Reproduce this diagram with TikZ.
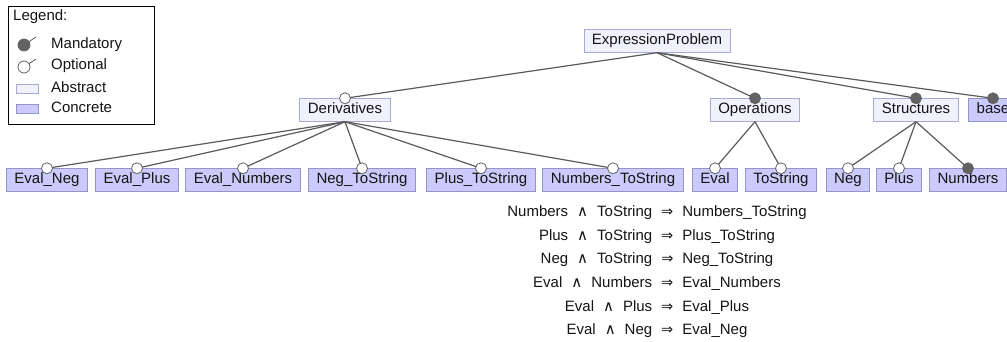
\documentclass[tikz,border=0pt]{standalone}
\usepackage{fontspec}
\setmainfont{Liberation Sans}
\newfontfamily\symfont[Scale=1.0]{DejaVu Sans}
\definecolor{absfill}{HTML}{F1F1FE}
\definecolor{absdraw}{HTML}{A9A9D6}
\definecolor{confill}{HTML}{CBCBFB}
\definecolor{condraw}{HTML}{9494C8}
\definecolor{edgecol}{HTML}{5A5A5A}
\definecolor{dotcol}{HTML}{626262}
\newcommand{\AND}{\hspace{9pt}{\symfont ∧}\hspace{9pt}}
\newcommand{\IMP}{\hspace{9pt}{\symfont\fontsize{14.5}{16}\selectfont ⇒}\hspace{9pt}}
\begin{document}
\begin{tikzpicture}[x=1pt,y=-1pt,
  every node/.style={font=\fontsize{15}{18}\selectfont, text=black!92},
  feat/.style={draw, line width=0.9pt, inner xsep=8pt, inner ysep=4pt,
    text height=11pt, text depth=3.5pt, anchor=center},
  abstractf/.style={feat, fill=absfill, draw=absdraw},
  concretef/.style={feat, fill=confill, draw=condraw},
  edge/.style={draw=edgecol, line width=1.2pt},
  mand/.style={circle, draw=dotcol, fill=dotcol, line width=0.8pt, inner sep=0pt, minimum size=11pt},
  opt/.style={circle, draw=dotcol, fill=white, line width=0.8pt, inner sep=0pt, minimum size=11pt},
  rule/.style={anchor=center, inner sep=0pt, text height=11pt, text depth=3.5pt}]
\useasboundingbox (0,0) rectangle (1007,342);
\clip (0,0) rectangle (1007,342);

% legend
\node[draw=black, line width=1pt, minimum width=146pt, minimum height=118pt, anchor=north west, inner sep=0pt] (legend) at (8,6) {};
\node[anchor=west, inner sep=0pt] (legtitle) at (13,17) {Legend:};
\coordinate (mandc) at (24,45);
\coordinate (mandt) at (36,37);
\draw[edgecol, line width=0.8pt] (mandc) -- (mandt);
\node[mand, minimum size=12pt] (legmand) at (mandc) {};
\node[anchor=west, inner sep=0pt] (legmandtxt) at (51,45) {Mandatory};
\coordinate (optc) at (24,67);
\coordinate (optt) at (36,59);
\draw[edgecol, line width=0.8pt] (optc) -- (optt);
\node[opt, minimum size=12pt] (legopt) at (optc) {};
\node[anchor=west, inner sep=0pt] (legopttxt) at (51,66) {Optional};
\node[draw=absdraw, fill=absfill, line width=0.9pt, minimum width=22pt, minimum height=9pt, inner sep=0pt] (legabs) at (27.5,89) {};
\node[anchor=west, inner sep=0pt] (legabstxt) at (51,87) {Abstract};
\node[draw=condraw, fill=confill, line width=0.9pt, minimum width=22pt, minimum height=9pt, inner sep=0pt] (legcon) at (27.5,109) {};
\node[anchor=west, inner sep=0pt] (legcontxt) at (51,107) {Concrete};

% feature tree
\node[abstractf] (root) at (657,41) {ExpressionProblem};

\node[abstractf] (deriv) at (345,110) {Derivatives};
\node[abstractf] (ops) at (755,110) {Operations};
\node[abstractf] (structs) at (916,110) {Structures};
\node[concretef] (base) at (993,110) {base};

\node[concretef] (evneg) at (47,180) {Eval\_Neg};
\node[concretef] (evplus) at (137,180) {Eval\_Plus};
\node[concretef] (evnum) at (243,180) {Eval\_Numbers};
\node[concretef] (negts) at (362,180) {Neg\_ToString};
\node[concretef] (plusts) at (481,180) {Plus\_ToString};
\node[concretef] (numts) at (613,180) {Numbers\_ToString};
\node[concretef] (eval) at (715,180) {Eval};
\node[concretef] (tostr) at (781,180) {ToString};
\node[concretef] (neg) at (848,180) {Neg};
\node[concretef] (plus) at (899,180) {Plus};
\node[concretef] (nums) at (968,180) {Numbers};

% connections
\foreach \c in {deriv,ops,structs,base}
  \draw[edge] (root.south) -- (\c.north);
\foreach \c in {evneg,evplus,evnum,negts,plusts,numts}
  \draw[edge] (deriv.south) -- (\c.north);
\foreach \c in {eval,tostr}
  \draw[edge] (ops.south) -- (\c.north);
\foreach \c in {neg,plus,nums}
  \draw[edge] (structs.south) -- (\c.north);

% mandatory / optional markers
\foreach \c in {ops,structs,base,nums}
  \node[mand] at (\c.north) {};
\foreach \c in {deriv,evneg,evplus,evnum,negts,plusts,numts,eval,tostr,neg,plus}
  \node[opt] at (\c.north) {};

% cross-tree constraints
\node[rule] (r1) at (657,213) {Numbers\AND ToString\IMP Numbers\_ToString};
\node[rule] (r2) at (657,237) {Plus\AND ToString\IMP Plus\_ToString};
\node[rule] (r3) at (657,260) {Neg\AND ToString\IMP Neg\_ToString};
\node[rule] (r4) at (657,284) {Eval\AND Numbers\IMP Eval\_Numbers};
\node[rule] (r5) at (657,308) {Eval\AND Plus\IMP Eval\_Plus};
\node[rule] (r6) at (657,331) {Eval\AND Neg\IMP Eval\_Neg};
\end{tikzpicture}
\end{document}
